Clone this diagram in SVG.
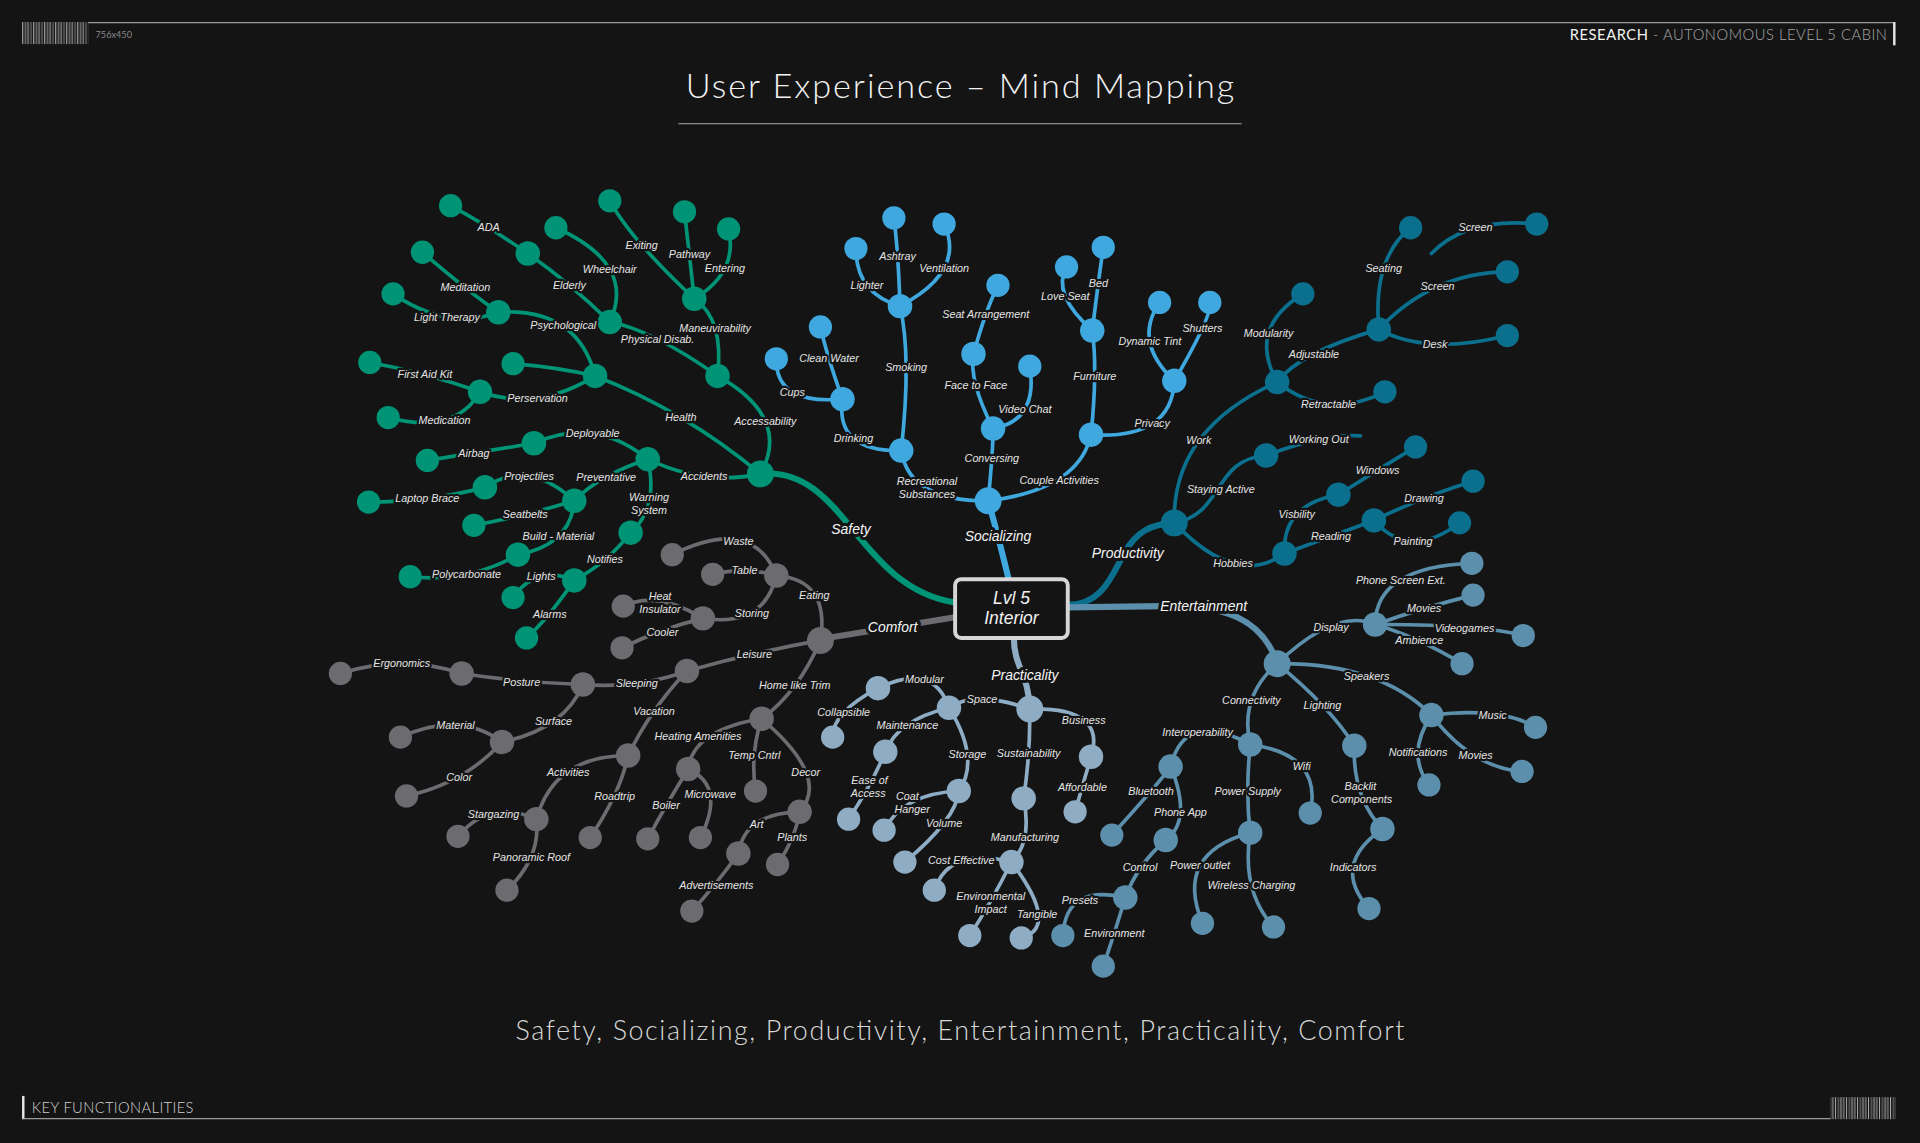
<svg xmlns="http://www.w3.org/2000/svg" width="1920" height="1143" viewBox="0 0 1920 1143">
<defs>
<pattern id="bars" width="9" height="20" patternUnits="userSpaceOnUse">
<rect x="0" y="0" width="1" height="20" fill="#9a9a9a"/>
<rect x="2" y="0" width="1.5" height="20" fill="#6a6a6a"/>
<rect x="4.5" y="0" width="0.8" height="20" fill="#b0b0b0"/>
<rect x="6.5" y="0" width="1.6" height="20" fill="#555"/>
</pattern>
</defs>
<style>
.e{fill:none;stroke-linecap:round;stroke-width:3}
.m{stroke-width:5}
.sf{stroke:#009476}.so{stroke:#3ea8df}.pr{stroke:#0b708e}.en{stroke:#5b8fab}.pc{stroke:#8eadc5}.co{stroke:#6b6b70}
.csf{fill:#009476}.cso{fill:#3ea8df}.cpr{fill:#0b708e}.cen{fill:#5b8fab}.cpc{fill:#8eadc5}.cco{fill:#6b6b70}
.t{font-family:"Liberation Sans",Arial,sans-serif;font-style:italic;font-size:8.8px;fill:#e4e4e4;text-anchor:middle;stroke:#141414;stroke-width:3.5px;paint-order:stroke;stroke-linejoin:round}
.tm{font-size:11.4px;fill:#f4f4f4;stroke-width:5px}
.hd{font-family:Lato,"Open Sans","Liberation Sans",sans-serif}
.lt{font-weight:300}
</style>
<rect width="1920" height="1143" fill="#141414"/>
<g transform="scale(1.2245)">
<g id="header">
<rect x="18" y="18" width="54" height="18" fill="url(#bars)"/>
<line x1="72" y1="18.5" x2="1547" y2="18.5" stroke="#9a9a9a" stroke-width="1"/>
<text x="78" y="31" class="hd" font-size="7.5" fill="#8a8a8a">756x450</text>
<text x="1541" y="33" class="hd" font-size="12" text-anchor="end" textLength="259" lengthAdjust="spacing"><tspan fill="#f2f2f2">RESEARCH</tspan><tspan fill="#a8a8a8" class="lt"> - AUTONOMOUS LEVEL 5 CABIN</tspan></text>
<line x1="1547" y1="18" x2="1547" y2="37" stroke="#e6e6e6" stroke-width="2"/>
<text x="784" y="80" class="hd lt" font-size="28" fill="#f2f2f2" text-anchor="middle" textLength="448" lengthAdjust="spacing">User Experience – Mind Mapping</text>
<line x1="554" y1="101" x2="1014" y2="101" stroke="#8a8a8a" stroke-width="1"/>
<text x="784" y="849" class="hd lt" font-size="22" fill="#d8d8d8" text-anchor="middle" textLength="726" lengthAdjust="spacing">Safety, Socializing, Productivity, Entertainment, Practicality, Comfort</text>
<line x1="19" y1="895" x2="19" y2="914" stroke="#e6e6e6" stroke-width="2"/>
<text x="26" y="909" class="hd lt" font-size="12" fill="#d0d0d0" textLength="132" lengthAdjust="spacing">KEY FUNCTIONALITIES</text>
<line x1="19" y1="913.5" x2="1495" y2="913.5" stroke="#9a9a9a" stroke-width="1"/>
<rect x="1495" y="896" width="53" height="18" fill="url(#bars)"/>
</g>
<g id="connectors">
<path class="e m sf" d="M621,387 C690,380 700,480 780,492"/>
<path class="e m so" d="M824,474 Q814.5,435 807,409"/>
<path class="e m pr" d="M872,494 C900,494 908,470 918,452 S940,428 959,427"/>
<path class="e m en" d="M872,496 L950,495 C1000,494 1030,505 1043,541"/>
<path class="e m pc" d="M828,521 C828,545 840,550 841,579"/>
<path class="e m co" d="M780,504 Q733.5,511.5 669,522"/>
<path class="e sf" d="M586,307 Q646.5,341 621,387"/>
<path class="e sf" d="M486,307 Q558.5,335 621,387"/>
<path class="e sf" d="M529,375 Q575,397 621,387"/>
<path class="e sf" d="M567,244 Q591.5,260.5 586,307"/>
<path class="e sf" d="M498,263 Q532,269 586,307"/>
<path class="e sf" d="M498,164 Q515.5,196 567,244"/>
<path class="e sf" d="M559,173 Q563,207.5 567,244"/>
<path class="e sf" d="M595,187 Q603,222.5 567,244"/>
<path class="e sf" d="M454,186 Q520,215.5 498,263"/>
<path class="e sf" d="M431,207 Q465.5,231 498,263"/>
<path class="e sf" d="M368,168 Q398.5,184.5 431,207"/>
<path class="e sf" d="M407,255 Q471.5,251 486,307"/>
<path class="e sf" d="M419,297 Q455,300 486,307"/>
<path class="e sf" d="M392,320 Q439,336.5 486,307"/>
<path class="e sf" d="M345,206 Q384,239.5 407,255"/>
<path class="e sf" d="M321,240 Q366,270.5 407,255"/>
<path class="e sf" d="M302,296 Q347,304 392,320"/>
<path class="e sf" d="M317,341 Q371.5,355.5 392,320"/>
<path class="e sf" d="M436,362 Q485.5,339.5 529,375"/>
<path class="e sf" d="M469,409 Q489,388 529,375"/>
<path class="e sf" d="M515,435 Q538,415 529,375"/>
<path class="e sf" d="M349,376 Q381.5,371 436,362"/>
<path class="e sf" d="M396,398 Q431.5,374.5 469,409"/>
<path class="e sf" d="M387,429 Q430,421 469,409"/>
<path class="e sf" d="M423,453 Q466,445 469,409"/>
<path class="e sf" d="M301,410 Q349.5,410 396,398"/>
<path class="e sf" d="M335,471 Q383,476 423,453"/>
<path class="e sf" d="M469,474 Q496,459.5 515,435"/>
<path class="e sf" d="M419,488 Q438,461 469,474"/>
<path class="e sf" d="M430,521 Q446.5,506.5 469,474"/>
<path class="e so" d="M736,368 Q742.5,409.5 807,409"/>
<path class="e so" d="M811,350 Q811,368.5 807,409"/>
<path class="e so" d="M891,355 Q881,400 807,409"/>
<path class="e so" d="M735,250 Q744.5,291 736,368"/>
<path class="e so" d="M688,326 Q682,369 736,368"/>
<path class="e so" d="M634,293 Q633,330.5 688,326"/>
<path class="e so" d="M670,267 Q675,289.5 688,326"/>
<path class="e so" d="M699,203 Q699,239.5 735,250"/>
<path class="e so" d="M730,178 Q733.5,204 735,250"/>
<path class="e so" d="M771,183 Q789,221.5 735,250"/>
<path class="e so" d="M795,289 Q791,310.5 811,350"/>
<path class="e so" d="M841,299 Q848,343.5 811,350"/>
<path class="e so" d="M815,233 Q805,253 795,289"/>
<path class="e so" d="M892,270 Q896.5,301.5 891,355"/>
<path class="e so" d="M959,311 Q957,359 891,355"/>
<path class="e so" d="M871,218 Q858.5,240 892,270"/>
<path class="e so" d="M901,202 Q897.5,226 892,270"/>
<path class="e so" d="M947,247 Q925,279 959,311"/>
<path class="e so" d="M988,247 Q990.5,257 959,311"/>
<path class="e pr" d="M1043,312 Q957,350.5 959,427"/>
<path class="e pr" d="M959,427 C1000,420 990,375 1034,372"/>
<path class="e pr" d="M1049,452 Q1010,480.5 959,427"/>
<path class="e pr" d="M1064,240 Q1018.5,268 1043,312"/>
<path class="e pr" d="M1126,269 Q1061.5,287.5 1043,312"/>
<path class="e pr" d="M1131,320 Q1083,344 1043,312"/>
<path class="e pr" d="M1152,186 Q1121,210.5 1126,269"/>
<path class="e pr" d="M1231,222 Q1169.5,222.5 1126,269"/>
<path class="e pr" d="M1231,274 Q1165.5,290.5 1126,269"/>
<path class="e pr" d="M1255,183 Q1198,177 1169,207"/>
<path class="e pr" d="M1034,372 Q1081.5,354 1111,356"/>
<path class="e pr" d="M1093,404 Q1047,412 1049,452"/>
<path class="e pr" d="M1122,425 Q1088.5,437.5 1049,452"/>
<path class="e pr" d="M1156,365 Q1125.5,383.5 1093,404"/>
<path class="e pr" d="M1203,393 Q1163.5,405 1122,425"/>
<path class="e pr" d="M1192,427 Q1151,458 1122,425"/>
<path class="e en" d="M1123,510 Q1091,496 1043,542"/>
<path class="e en" d="M1169,584 Q1126,541 1043,542"/>
<path class="e en" d="M1106,609 Q1085.5,576.5 1043,542"/>
<path class="e en" d="M1021,608 Q1012,569 1043,542"/>
<path class="e en" d="M1202,460 Q1123.5,463 1123,510"/>
<path class="e en" d="M1203,486 Q1163,496 1123,510"/>
<path class="e en" d="M1244,519 Q1208.5,509.5 1123,510"/>
<path class="e en" d="M1194,542 Q1157.5,520 1123,510"/>
<path class="e en" d="M1254,594 Q1226.5,577 1169,584"/>
<path class="e en" d="M1167,641 Q1148,615.5 1169,584"/>
<path class="e en" d="M1243,630 Q1202,627 1169,584"/>
<path class="e en" d="M1129,677 Q1104.5,651 1106,609"/>
<path class="e en" d="M1118,742 Q1086.5,706.5 1129,677"/>
<path class="e en" d="M1070,664 Q1080.5,616 1021,608"/>
<path class="e en" d="M1021,680 Q1017,648 1021,608"/>
<path class="e en" d="M956,626 Q967.5,579 1021,608"/>
<path class="e en" d="M982,754 Q958.5,697 1021,680"/>
<path class="e en" d="M1040,757 Q1013.5,727.5 1021,680"/>
<path class="e en" d="M908,682 Q948,638 956,626"/>
<path class="e en" d="M952,686 Q974,670 956,626"/>
<path class="e en" d="M919,733 Q928.5,706.5 952,686"/>
<path class="e en" d="M868,764 Q870.5,721.5 919,733"/>
<path class="e en" d="M901,789 Q910,763 919,733"/>
<path class="e pc" d="M775,578 Q796,563.5 841,579"/>
<path class="e pc" d="M891,618 Q904,577.5 841,579"/>
<path class="e pc" d="M836,652 Q841.5,614.5 841,579"/>
<path class="e pc" d="M717,562 Q762,540 775,578"/>
<path class="e pc" d="M783,646 Q801,620 775,578"/>
<path class="e pc" d="M723,614 Q733,588 775,578"/>
<path class="e pc" d="M680,602 Q679.5,582 717,562"/>
<path class="e pc" d="M693,669 Q712,640.5 723,614"/>
<path class="e pc" d="M722,678 Q737.5,648 783,646"/>
<path class="e pc" d="M739,704 Q781,669 783,646"/>
<path class="e pc" d="M826,704 Q843,688 836,652"/>
<path class="e pc" d="M878,663 Q883.5,643.5 891,618"/>
<path class="e pc" d="M763,727 Q775.5,690.5 826,704"/>
<path class="e pc" d="M792,764 Q809,738 826,704"/>
<path class="e pc" d="M834,766 Q866,757 826,704"/>
<path class="e co" d="M634,470 Q678,473.5 670,523"/>
<path class="e co" d="M561,548 Q616.5,532.5 670,523"/>
<path class="e co" d="M622,587 Q652,565 670,523"/>
<path class="e co" d="M549,453 Q614.5,420.5 634,470"/>
<path class="e co" d="M582,469 Q608,462.5 634,470"/>
<path class="e co" d="M574,505 Q624,512.5 634,470"/>
<path class="e co" d="M509,495 Q536.5,482 574,505"/>
<path class="e co" d="M508,529 Q541,513 574,505"/>
<path class="e co" d="M476,559 Q521.5,562.5 561,548"/>
<path class="e co" d="M513,617 Q531,579.5 561,548"/>
<path class="e co" d="M377,550 Q425.5,557.5 476,559"/>
<path class="e co" d="M410,606 Q461,595.5 476,559"/>
<path class="e co" d="M278,550 Q328.5,534 377,550"/>
<path class="e co" d="M327,602 Q375.5,580 410,606"/>
<path class="e co" d="M332,650 Q379,640 410,606"/>
<path class="e co" d="M438,669 Q452.5,617 513,617"/>
<path class="e co" d="M482,684 Q506.5,647.5 513,617"/>
<path class="e co" d="M374,683 Q400,652 438,669"/>
<path class="e co" d="M414,727 Q442,700 438,669"/>
<path class="e co" d="M562,628 Q566,596 622,587"/>
<path class="e co" d="M617,646 Q612.5,615.5 622,587"/>
<path class="e co" d="M653,663 Q678.5,635 622,587"/>
<path class="e co" d="M529,685 Q542.5,659.5 562,628"/>
<path class="e co" d="M572,684 Q593,642 562,628"/>
<path class="e co" d="M603,697 Q608,664 653,663"/>
<path class="e co" d="M635,706 Q650,683.5 653,663"/>
<path class="e co" d="M565,744 Q584,723.5 603,697"/>
</g>
<g id="center"><rect x="780" y="473" width="92" height="48" rx="5" fill="#141414" stroke="#d6d6d6" stroke-width="3.2"/><text class="t" x="826" y="493" style="font-size:14.3px;stroke:none;fill:#f2f2f2">Lvl 5</text><text class="t" x="826" y="510" style="font-size:14.3px;stroke:none;fill:#f2f2f2">Interior</text></g>
<g id="safety"><circle class="csf" cx="621" cy="387" r="11"/><text class="t tm" x="695" y="436">Safety</text></g>
<g id="accessability"><circle class="csf" cx="586" cy="307" r="10"/><text class="t" x="625" y="347">Accessability</text></g>
<g id="health"><circle class="csf" cx="486" cy="307" r="10"/><text class="t" x="556" y="344">Health</text></g>
<g id="accidents"><circle class="csf" cx="529" cy="375" r="10"/><text class="t" x="575" y="392">Accidents</text></g>
<g id="maneuvirability"><circle class="csf" cx="567" cy="244" r="10"/><text class="t" x="584" y="271">Maneuvirability</text></g>
<g id="physical-disab"><circle class="csf" cx="498" cy="263" r="10"/><text class="t" x="537" y="280">Physical Disab.</text></g>
<g id="exiting"><circle class="csf" cx="498" cy="164" r="9.5"/><text class="t" x="524" y="203">Exiting</text></g>
<g id="pathway"><circle class="csf" cx="559" cy="173" r="9.5"/><text class="t" x="563" y="211">Pathway</text></g>
<g id="entering"><circle class="csf" cx="595" cy="187" r="9.5"/><text class="t" x="592" y="222">Entering</text></g>
<g id="wheelchair"><circle class="csf" cx="454" cy="186" r="9.5"/><text class="t" x="498" y="223">Wheelchair</text></g>
<g id="elderly"><circle class="csf" cx="431" cy="207" r="10"/><text class="t" x="465" y="236">Elderly</text></g>
<g id="ada"><circle class="csf" cx="368" cy="168" r="9.5"/><text class="t" x="399" y="189">ADA</text></g>
<g id="psychological"><circle class="csf" cx="407" cy="255" r="10"/><text class="t" x="460" y="269">Psychological</text></g>
<g id="safety-leaf"><circle class="csf" cx="419" cy="297" r="9.5"/></g>
<g id="perservation"><circle class="csf" cx="392" cy="320" r="10"/><text class="t" x="439" y="328">Perservation</text></g>
<g id="meditation"><circle class="csf" cx="345" cy="206" r="9.5"/><text class="t" x="380" y="238">Meditation</text></g>
<g id="light-therapy"><circle class="csf" cx="321" cy="240" r="9.5"/><text class="t" x="365" y="262">Light Therapy</text></g>
<g id="first-aid-kit"><circle class="csf" cx="302" cy="296" r="9.5"/><text class="t" x="347" y="309">First Aid Kit</text></g>
<g id="medication"><circle class="csf" cx="317" cy="341" r="9.5"/><text class="t" x="363" y="346">Medication</text></g>
<g id="deployable"><circle class="csf" cx="436" cy="362" r="10"/><text class="t" x="484" y="357">Deployable</text></g>
<g id="preventative"><circle class="csf" cx="469" cy="409" r="10"/><text class="t" x="495" y="393">Preventative</text></g>
<g id="warning-system"><circle class="csf" cx="515" cy="435" r="10"/><text class="t" x="530" y="409">Warning<tspan x="530" dy="10.5">System</tspan></text></g>
<g id="airbag"><circle class="csf" cx="349" cy="376" r="9.5"/><text class="t" x="387" y="373">Airbag</text></g>
<g id="projectiles"><circle class="csf" cx="396" cy="398" r="10"/><text class="t" x="432" y="392">Projectiles</text></g>
<g id="seatbelts"><circle class="csf" cx="387" cy="429" r="9.5"/><text class="t" x="429" y="423">Seatbelts</text></g>
<g id="build-material"><circle class="csf" cx="423" cy="453" r="10"/><text class="t" x="456" y="441">Build - Material</text></g>
<g id="laptop-brace"><circle class="csf" cx="301" cy="410" r="9.5"/><text class="t" x="349" y="410">Laptop Brace</text></g>
<g id="polycarbonate"><circle class="csf" cx="335" cy="471" r="9.5"/><text class="t" x="381" y="472">Polycarbonate</text></g>
<g id="notifies"><circle class="csf" cx="469" cy="474" r="10"/><text class="t" x="494" y="460">Notifies</text></g>
<g id="lights"><circle class="csf" cx="419" cy="488" r="9.5"/><text class="t" x="442" y="474">Lights</text></g>
<g id="alarms"><circle class="csf" cx="430" cy="521" r="9.5"/><text class="t" x="449" y="505">Alarms</text></g>
<g id="socializing"><circle class="cso" cx="807" cy="409" r="11"/><text class="t tm" x="815" y="442">Socializing</text></g>
<g id="recreational"><circle class="cso" cx="736" cy="368" r="10"/><text class="t" x="757" y="396">Recreational<tspan x="757" dy="10.5">Substances</tspan></text></g>
<g id="conversing"><circle class="cso" cx="811" cy="350" r="10"/><text class="t" x="810" y="377">Conversing</text></g>
<g id="couple-activities"><circle class="cso" cx="891" cy="355" r="10"/><text class="t" x="865" y="395">Couple Activities</text></g>
<g id="smoking"><circle class="cso" cx="735" cy="250" r="10"/><text class="t" x="740" y="303">Smoking</text></g>
<g id="drinking"><circle class="cso" cx="688" cy="326" r="10"/><text class="t" x="697" y="361">Drinking</text></g>
<g id="cups"><circle class="cso" cx="634" cy="293" r="9.5"/><text class="t" x="647" y="323">Cups</text></g>
<g id="clean-water"><circle class="cso" cx="670" cy="267" r="9.5"/><text class="t" x="677" y="296">Clean Water</text></g>
<g id="lighter"><circle class="cso" cx="699" cy="203" r="9.5"/><text class="t" x="708" y="236">Lighter</text></g>
<g id="ashtray"><circle class="cso" cx="730" cy="178" r="9.5"/><text class="t" x="733" y="212">Ashtray</text></g>
<g id="ventilation"><circle class="cso" cx="771" cy="183" r="9.5"/><text class="t" x="771" y="222">Ventilation</text></g>
<g id="face-to-face"><circle class="cso" cx="795" cy="289" r="10"/><text class="t" x="797" y="318">Face to Face</text></g>
<g id="video-chat"><circle class="cso" cx="841" cy="299" r="9.5"/><text class="t" x="837" y="337">Video Chat</text></g>
<g id="seat-arrangement"><circle class="cso" cx="815" cy="233" r="9.5"/><text class="t" x="805" y="260">Seat Arrangement</text></g>
<g id="furniture"><circle class="cso" cx="892" cy="270" r="10"/><text class="t" x="894" y="310">Furniture</text></g>
<g id="privacy"><circle class="cso" cx="959" cy="311" r="10"/><text class="t" x="941" y="349">Privacy</text></g>
<g id="love-seat"><circle class="cso" cx="871" cy="218" r="9.5"/><text class="t" x="870" y="245">Love Seat</text></g>
<g id="bed"><circle class="cso" cx="901" cy="202" r="9.5"/><text class="t" x="897" y="234">Bed</text></g>
<g id="dynamic-tint"><circle class="cso" cx="947" cy="247" r="9.5"/><text class="t" x="939" y="282">Dynamic Tint</text></g>
<g id="shutters"><circle class="cso" cx="988" cy="247" r="9.5"/><text class="t" x="982" y="271">Shutters</text></g>
<g id="productivity"><circle class="cpr" cx="959" cy="427" r="11"/><text class="t tm" x="921" y="456">Productivity</text></g>
<g id="work"><circle class="cpr" cx="1043" cy="312" r="10"/><text class="t" x="979" y="363">Work</text></g>
<g id="staying-active"><circle class="cpr" cx="1034" cy="372" r="10"/><text class="t" x="997" y="403">Staying Active</text></g>
<g id="hobbies"><circle class="cpr" cx="1049" cy="452" r="10"/><text class="t" x="1007" y="463">Hobbies</text></g>
<g id="modularity"><circle class="cpr" cx="1064" cy="240" r="9.5"/><text class="t" x="1036" y="275">Modularity</text></g>
<g id="adjustable"><circle class="cpr" cx="1126" cy="269" r="10"/><text class="t" x="1073" y="292">Adjustable</text></g>
<g id="retractable"><circle class="cpr" cx="1131" cy="320" r="9.5"/><text class="t" x="1085" y="333">Retractable</text></g>
<g id="seating"><circle class="cpr" cx="1152" cy="186" r="9.5"/><text class="t" x="1130" y="222">Seating</text></g>
<g id="screen-2"><circle class="cpr" cx="1231" cy="222" r="9.5"/><text class="t" x="1174" y="237">Screen</text></g>
<g id="desk"><circle class="cpr" cx="1231" cy="274" r="9.5"/><text class="t" x="1172" y="284">Desk</text></g>
<g id="screen-1"><circle class="cpr" cx="1255" cy="183" r="9.5"/><text class="t" x="1205" y="189">Screen</text></g>
<g id="working-out"><text class="t" x="1077" y="362">Working Out</text></g>
<g id="visbility"><circle class="cpr" cx="1093" cy="404" r="10"/><text class="t" x="1059" y="423">Visbility</text></g>
<g id="reading"><circle class="cpr" cx="1122" cy="425" r="10"/><text class="t" x="1087" y="441">Reading</text></g>
<g id="windows"><circle class="cpr" cx="1156" cy="365" r="9.5"/><text class="t" x="1125" y="387">Windows</text></g>
<g id="drawing"><circle class="cpr" cx="1203" cy="393" r="9.5"/><text class="t" x="1163" y="410">Drawing</text></g>
<g id="painting"><circle class="cpr" cx="1192" cy="427" r="9.5"/><text class="t" x="1154" y="445">Painting</text></g>
<g id="entertainment"><circle class="cen" cx="1043" cy="542" r="11"/><text class="t tm" x="983" y="499">Entertainment</text></g>
<g id="display"><circle class="cen" cx="1123" cy="510" r="10"/><text class="t" x="1087" y="515">Display</text></g>
<g id="speakers"><circle class="cen" cx="1169" cy="584" r="10"/><text class="t" x="1116" y="555">Speakers</text></g>
<g id="lighting"><circle class="cen" cx="1106" cy="609" r="10"/><text class="t" x="1080" y="579">Lighting</text></g>
<g id="connectivity"><circle class="cen" cx="1021" cy="608" r="10"/><text class="t" x="1022" y="575">Connectivity</text></g>
<g id="phone-screen-ext"><circle class="cen" cx="1202" cy="460" r="9.5"/><text class="t" x="1144" y="477">Phone Screen Ext.</text></g>
<g id="movies"><circle class="cen" cx="1203" cy="486" r="9.5"/><text class="t" x="1163" y="500">Movies</text></g>
<g id="videogames"><circle class="cen" cx="1244" cy="519" r="9.5"/><text class="t" x="1196" y="516">Videogames</text></g>
<g id="ambience"><circle class="cen" cx="1194" cy="542" r="9.5"/><text class="t" x="1159" y="526">Ambience</text></g>
<g id="music"><circle class="cen" cx="1254" cy="594" r="9.5"/><text class="t" x="1219" y="587">Music</text></g>
<g id="notifications"><circle class="cen" cx="1167" cy="641" r="9.5"/><text class="t" x="1158" y="617">Notifications</text></g>
<g id="movies-2"><circle class="cen" cx="1243" cy="630" r="9.5"/><text class="t" x="1205" y="620">Movies</text></g>
<g id="backlit-components"><circle class="cen" cx="1129" cy="677" r="10"/><text class="t" x="1111" y="645">Backlit<tspan x="1112" dy="10.8">Components</tspan></text></g>
<g id="indicators"><circle class="cen" cx="1118" cy="742" r="9.5"/><text class="t" x="1105" y="711">Indicators</text></g>
<g id="wifi"><circle class="cen" cx="1070" cy="664" r="9.5"/><text class="t" x="1063" y="629">Wifi</text></g>
<g id="power-supply"><circle class="cen" cx="1021" cy="680" r="10"/><text class="t" x="1019" y="649">Power Supply</text></g>
<g id="interoperability"><circle class="cen" cx="956" cy="626" r="10"/><text class="t" x="978" y="601">Interoperability</text></g>
<g id="power-outlet"><circle class="cen" cx="982" cy="754" r="9.5"/><text class="t" x="980" y="710">Power outlet</text></g>
<g id="wireless-charging"><circle class="cen" cx="1040" cy="757" r="9.5"/><text class="t" x="1022" y="726">Wireless Charging</text></g>
<g id="bluetooth"><circle class="cen" cx="908" cy="682" r="9.5"/><text class="t" x="940" y="649">Bluetooth</text></g>
<g id="phone-app"><circle class="cen" cx="952" cy="686" r="10"/><text class="t" x="964" y="666">Phone App</text></g>
<g id="control"><circle class="cen" cx="919" cy="733" r="10"/><text class="t" x="931" y="711">Control</text></g>
<g id="presets"><circle class="cen" cx="868" cy="764" r="9.5"/><text class="t" x="882" y="738">Presets</text></g>
<g id="environment"><circle class="cen" cx="901" cy="789" r="9.5"/><text class="t" x="910" y="765">Environment</text></g>
<g id="practicality"><circle class="cpc" cx="841" cy="579" r="11"/><text class="t tm" x="837" y="555">Practicality</text></g>
<g id="space"><circle class="cpc" cx="775" cy="578" r="10"/><text class="t" x="802" y="574">Space</text></g>
<g id="business"><circle class="cpc" cx="891" cy="618" r="10"/><text class="t" x="885" y="591">Business</text></g>
<g id="sustainability"><circle class="cpc" cx="836" cy="652" r="10"/><text class="t" x="840" y="618">Sustainability</text></g>
<g id="modular"><circle class="cpc" cx="717" cy="562" r="10"/><text class="t" x="755" y="558">Modular</text></g>
<g id="storage"><circle class="cpc" cx="783" cy="646" r="10"/><text class="t" x="790" y="619">Storage</text></g>
<g id="maintenance"><circle class="cpc" cx="723" cy="614" r="10"/><text class="t" x="741" y="595">Maintenance</text></g>
<g id="collapsible"><circle class="cpc" cx="680" cy="602" r="9.5"/><text class="t" x="689" y="585">Collapsible</text></g>
<g id="ease-of-access"><circle class="cpc" cx="693" cy="669" r="9.5"/><text class="t" x="710" y="640">Ease of<tspan x="709" dy="10.5">Access</tspan></text></g>
<g id="coat-hanger"><circle class="cpc" cx="722" cy="678" r="9.5"/><text class="t" x="741" y="653">Coat<tspan x="745" dy="10.8">Hanger</tspan></text></g>
<g id="volume"><circle class="cpc" cx="739" cy="704" r="9.5"/><text class="t" x="771" y="675">Volume</text></g>
<g id="manufacturing"><circle class="cpc" cx="826" cy="704" r="10"/><text class="t" x="837" y="687">Manufacturing</text></g>
<g id="affordable"><circle class="cpc" cx="878" cy="663" r="9.5"/><text class="t" x="884" y="646">Affordable</text></g>
<g id="cost-effective"><circle class="cpc" cx="763" cy="727" r="9.5"/><text class="t" x="785" y="706">Cost Effective</text></g>
<g id="environmental-impact"><circle class="cpc" cx="792" cy="764" r="9.5"/><text class="t" x="809" y="735">Environmental<tspan x="809" dy="10.5">Impact</tspan></text></g>
<g id="tangible"><circle class="cpc" cx="834" cy="766" r="9.5"/><text class="t" x="847" y="750">Tangible</text></g>
<g id="comfort"><circle class="cco" cx="670" cy="523" r="11"/><text class="t tm" x="729" y="516">Comfort</text></g>
<g id="eating"><circle class="cco" cx="634" cy="470" r="10"/><text class="t" x="665" y="489">Eating</text></g>
<g id="leisure"><circle class="cco" cx="561" cy="548" r="10"/><text class="t" x="616" y="537">Leisure</text></g>
<g id="home-like-trim"><circle class="cco" cx="622" cy="587" r="10"/><text class="t" x="649" y="563">Home like Trim</text></g>
<g id="waste"><circle class="cco" cx="549" cy="453" r="9.5"/><text class="t" x="603" y="445">Waste</text></g>
<g id="table"><circle class="cco" cx="582" cy="469" r="9.5"/><text class="t" x="608" y="469">Table</text></g>
<g id="storing"><circle class="cco" cx="574" cy="505" r="10"/><text class="t" x="614" y="504">Storing</text></g>
<g id="heat-insulator"><circle class="cco" cx="509" cy="495" r="9.5"/><text class="t" x="539" y="490">Heat<tspan x="539" dy="10.5">Insulator</tspan></text></g>
<g id="cooler"><circle class="cco" cx="508" cy="529" r="9.5"/><text class="t" x="541" y="519">Cooler</text></g>
<g id="sleeping"><circle class="cco" cx="476" cy="559" r="10"/><text class="t" x="520" y="561">Sleeping</text></g>
<g id="vacation"><circle class="cco" cx="513" cy="617" r="10"/><text class="t" x="534" y="584">Vacation</text></g>
<g id="posture"><circle class="cco" cx="377" cy="550" r="10"/><text class="t" x="426" y="560">Posture</text></g>
<g id="surface"><circle class="cco" cx="410" cy="606" r="10"/><text class="t" x="452" y="592">Surface</text></g>
<g id="ergonomics"><circle class="cco" cx="278" cy="550" r="9.5"/><text class="t" x="328" y="545">Ergonomics</text></g>
<g id="material"><circle class="cco" cx="327" cy="602" r="9.5"/><text class="t" x="372" y="595">Material</text></g>
<g id="color"><circle class="cco" cx="332" cy="650" r="9.5"/><text class="t" x="375" y="638">Color</text></g>
<g id="activities"><circle class="cco" cx="438" cy="669" r="10"/><text class="t" x="464" y="634">Activities</text></g>
<g id="roadtrip"><circle class="cco" cx="482" cy="684" r="9.5"/><text class="t" x="502" y="653">Roadtrip</text></g>
<g id="stargazing"><circle class="cco" cx="374" cy="683" r="9.5"/><text class="t" x="403" y="668">Stargazing</text></g>
<g id="panoramic-roof"><circle class="cco" cx="414" cy="727" r="9.5"/><text class="t" x="434" y="703">Panoramic Roof</text></g>
<g id="heating-amenities"><circle class="cco" cx="562" cy="628" r="10"/><text class="t" x="570" y="604">Heating Amenities</text></g>
<g id="temp-cntrl"><circle class="cco" cx="617" cy="646" r="9.5"/><text class="t" x="616" y="620">Temp Cntrl</text></g>
<g id="decor"><circle class="cco" cx="653" cy="663" r="10"/><text class="t" x="658" y="634">Decor</text></g>
<g id="boiler"><circle class="cco" cx="529" cy="685" r="9.5"/><text class="t" x="544" y="661">Boiler</text></g>
<g id="microwave"><circle class="cco" cx="572" cy="684" r="9.5"/><text class="t" x="580" y="652">Microwave</text></g>
<g id="art"><circle class="cco" cx="603" cy="697" r="10"/><text class="t" x="618" y="676">Art</text></g>
<g id="plants"><circle class="cco" cx="635" cy="706" r="9.5"/><text class="t" x="647" y="687">Plants</text></g>
<g id="advertisements"><circle class="cco" cx="565" cy="744" r="9.5"/><text class="t" x="585" y="726">Advertisements</text></g>
</g>
</svg>
